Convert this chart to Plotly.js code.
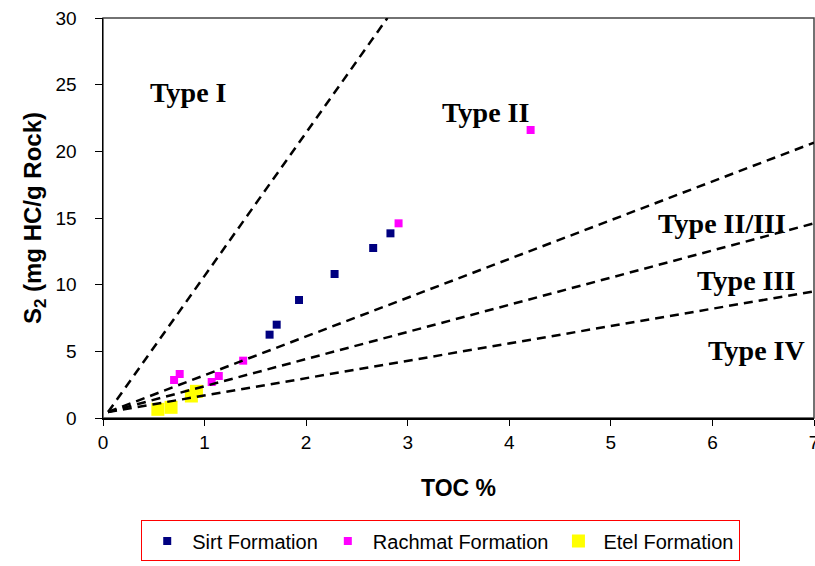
<!DOCTYPE html>
<html>
<head>
<meta charset="utf-8">
<script src="https://cdn.plot.ly/plotly-3.0.1.min.js"></script>
<style>html,body{margin:0;padding:0;background:#fff;}#chart{width:815px;height:566px;}</style>
</head>
<body>
<div id="chart"></div>
<script>
// Sample data (TOC %, S2 mg HC/g rock)
var sirtToc = [1.64, 1.71, 1.93, 2.28, 2.66, 2.83];
var sirtS2  = [6.25, 7.0, 8.85, 10.8, 12.75, 13.85];
var rachToc = [0.70, 0.755, 1.07, 1.14, 1.38, 2.91, 4.21];
var rachS2  = [2.85, 3.3, 2.7, 3.15, 4.3, 14.6, 21.6];
var etelToc = [0.54, 0.67, 0.87, 0.92];
var etelS2  = [0.65, 0.8, 1.65, 2.0];

// Kerogen type boundary lines (start and end points)
var typeIToc   = [0.05, 2.8];
var typeIS2    = [0.45, 30];
var typeIIToc  = [0.05, 7];
var typeIIS2   = [0.45, 20.65];
var typeIIIToc = [0.05, 7];
var typeIIIS2  = [0.45, 14.6];
var typeIVToc  = [0.05, 7];
var typeIVS2   = [0.45, 9.5];

var seriesNames = ['Sirt Formation', 'Rachmat Formation', 'Etel Formation'];
var typeLabels = ['Type I', 'Type II', 'Type II/III', 'Type III', 'Type IV'];
var labelToc = [0.84, 3.77, 6.09, 6.33, 6.43];
var labelS2  = [24.4, 22.9, 14.6, 10.3, 5.1];

var xTicks = [0, 1, 2, 3, 4, 5, 6, 7];
var yTicks = [0, 5, 10, 15, 20, 25, 30];

var sansFont = 'Liberation Sans, Arial, sans-serif';
var serifFont = 'Liberation Serif, Times New Roman, serif';

function boundary(x, y) {
  return {x: x, y: y, mode: 'lines', type: 'scatter', showlegend: false, hoverinfo: 'skip',
          line: {color: '#000000', width: 2.5, dash: '9px,6px'}};
}

var traces = [
  {x: sirtToc, y: sirtS2, name: seriesNames[0], mode: 'markers', type: 'scatter',
   marker: {symbol: 'square', size: 8, color: '#000080'}},
  {x: rachToc, y: rachS2, name: seriesNames[1], mode: 'markers', type: 'scatter',
   marker: {symbol: 'square', size: 8, color: '#ff00ff'}},
  {x: etelToc, y: etelS2, name: seriesNames[2], mode: 'markers', type: 'scatter',
   marker: {symbol: 'square', size: 13, color: '#ffff00'}},
  boundary(typeIToc, typeIS2),
  boundary(typeIIToc, typeIIS2),
  boundary(typeIIIToc, typeIIIS2),
  boundary(typeIVToc, typeIVS2)
];

var annotations = typeLabels.map(function (t, i) {
  return {x: labelToc[i], y: labelS2[i], xref: 'x', yref: 'y', text: '<b>' + t + '</b>',
          showarrow: false, xanchor: 'center', yanchor: 'middle',
          font: {family: serifFont, size: 28, color: '#000000'}};
});

var layout = {
  width: 815, height: 566,
  margin: {l: 103, r: 1, t: 18, b: 148, autoexpand: false},
  paper_bgcolor: '#ffffff', plot_bgcolor: '#ffffff',
  font: {family: sansFont, color: '#000000'},
  showlegend: true,
  legend: {orientation: 'h', x: 0.475, xanchor: 'center', y: -0.256, yanchor: 'top',
           bordercolor: '#ff0000', borderwidth: 1, bgcolor: '#ffffff', itemwidth: 40,
           font: {family: sansFont, size: 20, color: '#000000'}, itemsizing: 'trace'},
  xaxis: {range: [0, 7], tickvals: xTicks, ticktext: xTicks.map(String), showgrid: false, zeroline: false,
          showline: true, linecolor: '#000000', linewidth: 2, ticks: 'outside', ticklen: 6, tickcolor: '#000000',
          ticklabeloverflow: 'allow',
          tickfont: {family: sansFont, size: 19, color: '#000000'},
          title: {text: '<b>TOC %</b>', font: {family: sansFont, size: 23, color: '#000000'}, standoff: 28}},
  yaxis: {range: [0, 30], tickvals: yTicks, ticktext: yTicks.map(String), showgrid: false, zeroline: false,
          showline: true, linecolor: '#000000', linewidth: 1.5, ticks: 'outside', ticklen: 7, tickcolor: '#000000',
          ticklabelstandoff: 14, ticklabeloverflow: 'allow',
          tickfont: {family: sansFont, size: 19, color: '#000000'},
          title: {text: '<b>S<sub>2</sub> (mg HC/g Rock)</b>', font: {family: sansFont, size: 24, color: '#000000'}, standoff: 7}},
  shapes: [{type: 'rect', xref: 'paper', yref: 'paper', x0: 0, x1: 1, y0: 0, y1: 1,
            line: {color: '#444444', width: 1.5}, layer: 'below'}],
  annotations: annotations
};

Plotly.newPlot('chart', traces, layout, {displayModeBar: false, staticPlot: true});
</script>
</body>
</html>
